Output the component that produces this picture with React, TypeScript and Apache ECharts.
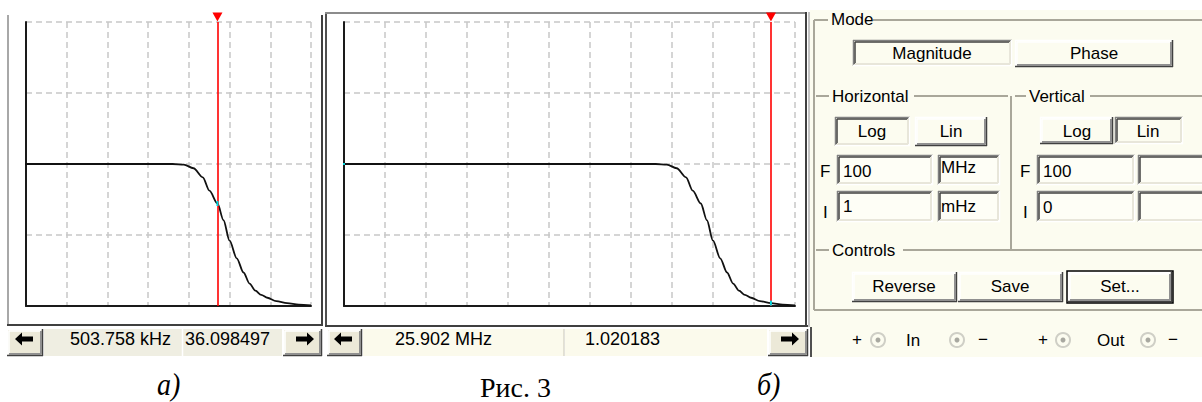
import React, { useEffect, useRef } from 'react';
import * as echarts from 'echarts';

// ---- data ----
const freqHz = [1e-3, 1e1, 1e3, 4e4, 7.5e4, 1.3e5, 2.2e5, 3.2e5, 5.04e5, 7.1e5, 1.0e6, 1.5e6, 2.2e6, 3.1e6, 4.3e6, 6.0e6, 8.5e6, 1.4e7, 2.59e7, 5e7, 1e8];
const magnitude = [50, 50, 50, 50, 49.8, 48.5, 45.3, 40.6, 36.1, 30.2, 23.0, 16.8, 11.8, 7.9, 5.4, 3.9, 2.9, 1.7, 1.02, 0.45, 0.25];
const rangeA = [10, 1e8];
const rangeB = [1e-3, 1e8];
const verticalRange = [0, 100];
const verticalStep = 25;
const cursorA = { freq: 503758, value: 36.098497, freqText: '503.758 kHz', valueText: '36.098497' };
const cursorB = { freq: 25.902e6, value: 1.020183, freqText: '25.902 MHz', valueText: '1.020183' };
const modeLabels = ['Magnitude', 'Phase'];
const scaleLabels = ['Log', 'Lin'];
const horizontalFields = { F: ['100', 'MHz'], I: ['1', 'mHz'] };
const verticalFields = { F: ['100', ''], I: ['0', ''] };
const controlLabels = ['Reverse', 'Save', 'Set...'];
const captions = ['а)', 'Рис. 3', 'б)'];

const UI_FONT = '"Liberation Sans", Arial, sans-serif';
const SERIF = '"Liberation Serif", "Times New Roman", serif';
const PANEL = '#FCFCF0';
const FACE = '#ECE9D8';

const ln = (x1: number, y1: number, x2: number, y2: number, stroke: string, lineWidth = 1): any => ({
  type: 'line', silent: true, shape: { x1, y1, x2, y2 }, style: { stroke, lineWidth },
});

const box = (x: number, y: number, w: number, h: number, fill: string, pressed: boolean, strong = false): any[] => {
  const tl1 = pressed ? '#808080' : '#FFFFFF';
  const tl2 = pressed ? '#404040' : '#FFFFFF';
  const br1 = pressed ? '#FFFFFF' : '#404040';
  const br2 = pressed ? '#E8E6DA' : '#909090';
  const els: any[] = [
    { type: 'rect', silent: true, shape: { x, y, width: w, height: h }, style: { fill } },
    ln(x, y + 0.5, x + w, y + 0.5, tl1, 1.5),
    ln(x + 0.5, y, x + 0.5, y + h, tl1, 1.5),
    ln(x + 2, y + 2, x + w - 2, y + 2, tl2, 1.5),
    ln(x + 2, y + 2, x + 2, y + h - 2, tl2, 1.5),
    ln(x, y + h - 0.5, x + w, y + h - 0.5, br1, 1.5),
    ln(x + w - 0.5, y, x + w - 0.5, y + h, br1, 1.5),
    ln(x + 2, y + h - 2, x + w - 2, y + h - 2, br2, 2),
    ln(x + w - 2, y + 2, x + w - 2, y + h - 2, br2, 2),
  ];
  if (strong) {
    els.push({ type: 'rect', silent: true, shape: { x: x - 1, y: y - 1, width: w + 2, height: h + 2 }, style: { fill: 'none', stroke: '#000', lineWidth: 1.5 } });
  }
  return els;
};

const txt = (text: string, x: number, y: number, align = 'left', size = 17, extra: any = {}): any => ({
  type: 'text', silent: true, x, y,
  style: { text, fill: '#000', font: `${size}px ${UI_FONT}`, align, verticalAlign: 'middle', ...extra },
});

const arrow = (cx: number, cy: number, dir: number): any => {
  const p = (dx: number, dy: number) => [cx + dir * dx, cy + dy];
  return {
    type: 'polygon', silent: true,
    shape: { points: [p(-9, 0), p(-2, -6.5), p(-2, -2.5), p(9, -2.5), p(9, 2.5), p(-2, 2.5), p(-2, 6.5)] },
    style: { fill: '#000' },
  };
};

const connector = (cx: number, cy: number): any[] => [
  { type: 'circle', silent: true, shape: { cx, cy, r: 7 }, style: { fill: 'none', stroke: '#CFCFC6', lineWidth: 2 } },
  { type: 'circle', silent: true, shape: { cx, cy, r: 2.5 }, style: { fill: '#A8A8A0' } },
];

function buildGraphics(): any[] {
  const g: any[] = [];
  // right panel background
  g.push({ type: 'rect', silent: true, shape: { x: 810, y: 10, width: 392, height: 347 }, style: { fill: PANEL } });
  // frames of the two plots
  g.push(ln(8, 15, 8, 326, '#A8A8A8', 2));
  g.push(ln(322, 15, 322, 326, '#404040', 2));
  g.push(ln(7, 325, 323, 325, '#404040', 2));
  g.push(ln(326, 12, 326, 327, '#505050', 2));
  g.push(ln(325, 13, 807, 13, '#8C8C8C', 2));
  g.push(ln(806, 12, 806, 327, '#404040', 2));
  g.push(ln(809, 12, 809, 327, '#B0B0B0', 1.5));
  g.push(ln(325, 326, 808, 326, '#404040', 2));
  g.push(ln(811, 327, 811, 357, '#505050', 2));

  // status bars
  g.push(...box(7, 329, 36, 27, FACE, false));
  g.push({ type: 'rect', silent: true, shape: { x: 44, y: 329, width: 138, height: 27 }, style: { fill: '#EFEEE2' } });
  g.push({ type: 'rect', silent: true, shape: { x: 183, y: 329, width: 99, height: 27 }, style: { fill: '#EFEEE2' } });
  g.push(ln(182.5, 329, 182.5, 356, '#FFFFFF', 1.5));
  g.push(...box(283, 329, 39, 27, FACE, false));
  g.push(...box(327, 329, 35, 27, FACE, false));
  g.push({ type: 'rect', silent: true, shape: { x: 363, y: 329, width: 201, height: 27 }, style: { fill: '#FBFAEC' } });
  g.push({ type: 'rect', silent: true, shape: { x: 565, y: 329, width: 202, height: 27 }, style: { fill: '#FBFAEC' } });
  g.push(ln(564, 329, 564, 356, '#C8C6B8', 1));
  g.push(...box(768, 329, 40, 27, FACE, false));
  g.push(arrow(24, 339, 1), arrow(305, 339, -1), arrow(343, 339, 1), arrow(790, 339, -1));
  g.push(txt(cursorA.freqText, 70, 339, 'left', 18), txt(cursorA.valueText, 185, 339, 'left', 18));
  g.push(txt(cursorB.freqText, 395, 339, 'left', 18), txt(cursorB.valueText, 585, 339, 'left', 18));

  // group boxes
  const GL = '#A9A79A';
  g.push(ln(814, 20, 828, 20, GL, 2), ln(873, 20, 1202, 20, GL, 2));
  g.push(ln(814, 20, 814, 310, GL, 2), ln(814, 310, 1202, 310, GL, 2));
  g.push(txt('Mode', 831, 19));
  g.push(ln(816, 96, 829, 96, GL, 2), ln(914, 96, 1008, 96, GL, 2), ln(1011, 96, 1011, 250, GL, 2));
  g.push(txt('Horizontal', 832, 96));
  g.push(ln(1015, 96, 1026, 96, GL, 2), ln(1090, 96, 1202, 96, GL, 2));
  g.push(txt('Vertical', 1029, 96));
  g.push(ln(816, 250, 829, 250, GL, 2), ln(903, 250, 1202, 250, GL, 2));
  g.push(txt('Controls', 832, 250));

  // mode buttons
  g.push(...box(853, 40, 159, 26, PANEL, true), ...box(1015, 40, 158, 27, PANEL, false));
  g.push(txt(modeLabels[0], 932, 53, 'center'), txt(modeLabels[1], 1094, 53, 'center'));
  // Log / Lin
  g.push(...box(835, 117, 75, 29, PANEL, true), ...box(915, 117, 72, 29, PANEL, false));
  g.push(txt(scaleLabels[0], 872, 131, 'center'), txt(scaleLabels[1], 951, 131, 'center'));
  g.push(...box(1040, 117, 73, 27, PANEL, false), ...box(1115, 117, 68, 27, PANEL, true));
  g.push(txt(scaleLabels[0], 1077, 131, 'center'), txt(scaleLabels[1], 1148, 131, 'center'));

  // F / I fields
  const fieldFill = '#FEFEF6';
  g.push(txt('F', 820, 171), txt('I', 823, 212));
  g.push(...box(837, 155, 96, 30, fieldFill, true), ...box(938, 155, 62, 30, fieldFill, true));
  g.push(...box(837, 191, 96, 31, fieldFill, true), ...box(938, 191, 62, 31, fieldFill, true));
  g.push(txt(horizontalFields.F[0], 843, 171), txt(horizontalFields.F[1], 941, 167));
  g.push(txt(horizontalFields.I[0], 843, 206), txt(horizontalFields.I[1], 941, 206));
  g.push(txt('F', 1020, 171), txt('I', 1023, 212));
  g.push(...box(1037, 155, 98, 30, fieldFill, true), ...box(1138, 155, 70, 30, fieldFill, true));
  g.push(...box(1037, 191, 98, 31, fieldFill, true), ...box(1138, 191, 70, 31, fieldFill, true));
  g.push(txt(verticalFields.F[0], 1043, 171), txt(verticalFields.I[0], 1043, 207));

  // controls
  g.push(...box(852, 272, 105, 30, PANEL, false), ...box(958, 272, 105, 30, PANEL, false), ...box(1068, 272, 104, 30, PANEL, false, true));
  g.push(txt(controlLabels[0], 904, 286, 'center'), txt(controlLabels[1], 1010, 286, 'center'), txt(controlLabels[2], 1120, 286, 'center'));

  // connectors
  g.push(txt('+', 857, 339, 'center'), ...connector(878, 340), txt('In', 906, 340), ...connector(957, 340), txt('−', 983, 339, 'center'));
  g.push(txt('+', 1043, 339, 'center'), ...connector(1063, 340), txt('Out', 1097, 340), ...connector(1148, 340), txt('−', 1173, 339, 'center'));

  // captions
  g.push({ type: 'text', silent: true, x: 157, y: 384, scaleY: 1.15,
    style: { text: captions[0], fill: '#000', font: `italic 28px ${SERIF}`, align: 'left', verticalAlign: 'middle' } });
  g.push({ type: 'text', silent: true, x: 480, y: 387,
    style: { text: captions[1], fill: '#000', font: `28px ${SERIF}`, align: 'left', verticalAlign: 'middle' } });
  g.push({ type: 'text', silent: true, x: 757, y: 384, scaleY: 1.15,
    style: { text: captions[2], fill: '#000', font: `italic 28px ${SERIF}`, align: 'left', verticalAlign: 'middle' } });
  return g;
}

const xAxisFor = (gridIndex: number, range: number[]): any => ({
  type: 'log', logBase: 10, gridIndex, min: range[0], max: range[1], interval: 1,
  axisLine: { show: true, onZero: false, lineStyle: { color: '#1a1a1a', width: 2 } },
  axisTick: { show: false }, axisLabel: { show: false },
  splitLine: { show: true, lineStyle: { color: '#C8C8C8', type: [6, 4], width: 1.5 } },
});
const yAxisFor = (gridIndex: number): any => ({
  type: 'value', gridIndex, min: verticalRange[0], max: verticalRange[1], interval: verticalStep,
  axisLine: { show: true, lineStyle: { color: '#1a1a1a', width: 2 } },
  axisTick: { show: false }, axisLabel: { show: false },
  splitLine: { show: true, lineStyle: { color: '#C8C8C8', type: [6, 4], width: 1.5 } },
});
const curveSeries = (idx: number, cursor: typeof cursorA, withStartDot: boolean): any => ({
  type: 'line', xAxisIndex: idx, yAxisIndex: idx,
  data: freqHz.map((f, i) => [f, magnitude[i]]),
  showSymbol: false, symbol: 'none', smooth: 0.3, smoothMonotone: 'x', clip: true,
  lineStyle: { color: '#111', width: 1.8 },
  markLine: {
    silent: true, symbol: ['none', 'none'], label: { show: false },
    lineStyle: { color: '#FF0000', width: 1.6, type: 'solid' },
    data: [{ xAxis: cursor.freq }],
  },
  markPoint: {
    silent: true, label: { show: false },
    data: [
      { coord: [cursor.freq, verticalRange[1]], symbol: 'triangle', symbolSize: [10, 9], symbolRotate: 180, symbolOffset: [0, -5], itemStyle: { color: '#FF0000' } },
      { coord: [cursor.freq, cursor.value], symbol: 'rect', symbolSize: [2, 5], itemStyle: { color: '#00D8E0' } },
      ...(withStartDot ? [{ coord: [freqHz[0], magnitude[0]], symbol: 'rect', symbolSize: [2, 2], itemStyle: { color: '#00D8E0' } }] : []),
    ],
  },
});

export default function App() {
  const ref = useRef<HTMLDivElement>(null);
  useEffect(() => {
    if (!ref.current) return;
    const chart = echarts.init(ref.current, undefined, { renderer: 'svg' });
    chart.setOption({
      animation: false,
      backgroundColor: '#FFFFFF',
      grid: [
        { left: 26, top: 22, width: 285, height: 284 },
        { left: 344, top: 22, width: 451, height: 284 },
      ],
      xAxis: [xAxisFor(0, rangeA), xAxisFor(1, rangeB)],
      yAxis: [yAxisFor(0), yAxisFor(1)],
      series: [curveSeries(0, cursorA, false), curveSeries(1, cursorB, true)],
      graphic: { elements: buildGraphics() },
    });
    return () => chart.dispose();
  }, []);
  return <div ref={ref} style={{ position: 'absolute', left: 0, top: 0, width: 1202, height: 402 }} />;
}
